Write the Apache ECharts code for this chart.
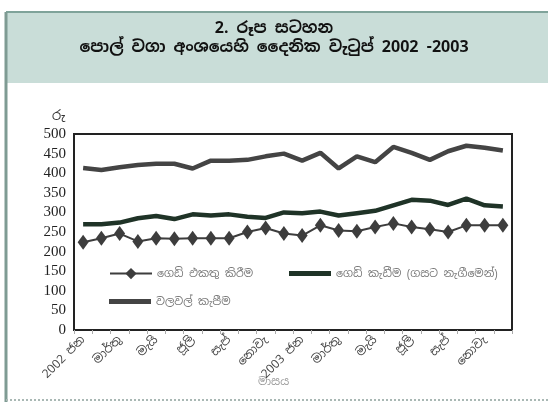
<!DOCTYPE html>
<html>
<head>
<meta charset="utf-8">
<style>
  html, body { margin: 0; padding: 0; background: #ffffff; }
  #chart { width: 548px; height: 406px; }
</style>
<script src="https://cdn.jsdelivr.net/npm/echarts@6/dist/echarts.min.js"></script>
</head>
<body>
<div id="chart"></div>
<script>
// ---- data ----
var titleLine1 = "2. රූප සටහන";
var titleLine2 = "පොල් වගා අංශයෙහි දෛනික වැටුප් 2002 -2003";
var yAxisName = "රු";
var xAxisName = "මාසය";
var categories = [
  "2002 ජන", "පෙබ", "මාර්තු", "අප්‍රේල්", "මැයි", "ජූනි", "ජූලි", "අගෝ", "සැප්", "ඔක්", "නොවැ", "දෙසැ",
  "2003 ජන", "පෙබ", "මාර්තු", "අප්‍රේල්", "මැයි", "ජූනි", "ජූලි", "අගෝ", "සැප්", "ඔක්", "නොවැ", "දෙසැ"
];
var nameCollect = "ගෙඩි එකතු කිරීම";
var namePluck = "ගෙඩි කැඩීම (ගසට නැගීමෙන්)";
var nameDig = "වලවල් කැපීම";
var collectValues = [224, 234, 246, 226, 234, 233, 234, 234, 234, 250, 260, 246,
                     241, 267, 254, 252, 263, 272, 263, 257, 250, 267, 267, 267];
var pluckValues = [270, 270, 274, 285, 291, 283, 295, 292, 295, 289, 286, 300,
                   298, 302, 292, 298, 304, 318, 332, 330, 319, 335, 318, 315];
var digValues = [413, 408, 415, 421, 424, 424, 412, 432, 432, 434, 443, 450,
                 432, 452, 412, 443, 428, 467, 452, 434, 456, 470, 465, 458];

var sinFont = "'Noto Sans Sinhala','Iskoola Pota','Liberation Serif','DejaVu Serif',serif";
var serifFont = "'Liberation Serif','DejaVu Serif',serif";

var chart = echarts.init(document.getElementById('chart'), null, { renderer: 'canvas' });
chart.setOption({
  backgroundColor: '#ffffff',
  animation: false,
  graphic: [
    { type: 'rect', z: -10, shape: { x: 6, y: 12, width: 542, height: 71 }, style: { fill: '#c9ddd8' } },
    { type: 'line', z: -5, shape: { x1: 6, y1: 12, x2: 548, y2: 12 }, style: { stroke: '#7fa39a', lineWidth: 2 } },
    { type: 'line', z: -5, shape: { x1: 6, y1: 12, x2: 6, y2: 402 }, style: { stroke: '#7f9b93', lineWidth: 3 } },
    { type: 'line', z: -5, shape: { x1: 6, y1: 400, x2: 548, y2: 400 }, style: { stroke: '#a9b8b4', lineWidth: 2, lineDash: [2, 2] } },
    { type: 'text', left: 'center', top: 21, style: { text: titleLine1, font: "bold 16px " + sinFont, fill: '#111' } },
    { type: 'text', left: 'center', top: 40, style: { text: titleLine2, font: "bold 16px " + sinFont, fill: '#111' } },
    { type: 'text', left: 52, top: 110, style: { text: yAxisName, font: "13px " + sinFont, fill: '#333' } },
    { type: 'text', left: 258, top: 376, style: { text: xAxisName, font: "11px " + sinFont, fill: '#999' } }
  ],
  grid: {
    left: 74, right: 36, top: 134, bottom: 76,
    show: true, borderColor: '#222', borderWidth: 2, backgroundColor: 'transparent'
  },
  legend: [
    { data: [nameCollect], left: 104, top: 263, itemWidth: 42, itemHeight: 14,
      textStyle: { color: '#777', fontSize: 11, fontFamily: sinFont } },
    { data: [{ name: namePluck, icon: 'rect' }], left: 284, top: 263, itemWidth: 42, itemHeight: 5,
      textStyle: { color: '#777', fontSize: 11, fontFamily: sinFont } },
    { data: [{ name: nameDig, icon: 'rect' }], left: 104, top: 291, itemWidth: 42, itemHeight: 5,
      textStyle: { color: '#777', fontSize: 11, fontFamily: sinFont } }
  ],
  xAxis: {
    type: 'category',
    data: categories,
    boundaryGap: true,
    axisLine: { show: true, lineStyle: { color: '#222', width: 2 } },
    axisTick: { show: true, interval: 0, length: 4, lineStyle: { color: '#aaa' } },
    axisLabel: {
      interval: 1, rotate: 45, margin: 8,
      color: '#444', fontSize: 12, fontFamily: sinFont
    },
    splitLine: { show: false }
  },
  yAxis: {
    type: 'value',
    min: 0, max: 500, interval: 50,
    axisLine: { show: true, lineStyle: { color: '#222', width: 2 } },
    axisTick: { show: false },
    axisLabel: { color: '#222', fontSize: 15, fontFamily: serifFont, margin: 8 },
    splitLine: { show: false }
  },
  series: [
    {
      name: nameCollect, type: 'line', data: collectValues,
      symbol: 'diamond', symbolSize: [11, 15], showSymbol: true, showAllSymbol: true,
      lineStyle: { color: '#3d3d3d', width: 2 },
      itemStyle: { color: '#3d3d3d' }
    },
    {
      name: namePluck, type: 'line', data: pluckValues,
      symbol: 'none',
      lineStyle: { color: '#1f3327', width: 4.5 },
      itemStyle: { color: '#1f3327' }
    },
    {
      name: nameDig, type: 'line', data: digValues,
      symbol: 'none',
      lineStyle: { color: '#444444', width: 4.5 },
      itemStyle: { color: '#444444' }
    }
  ]
});
</script>
</body>
</html>
